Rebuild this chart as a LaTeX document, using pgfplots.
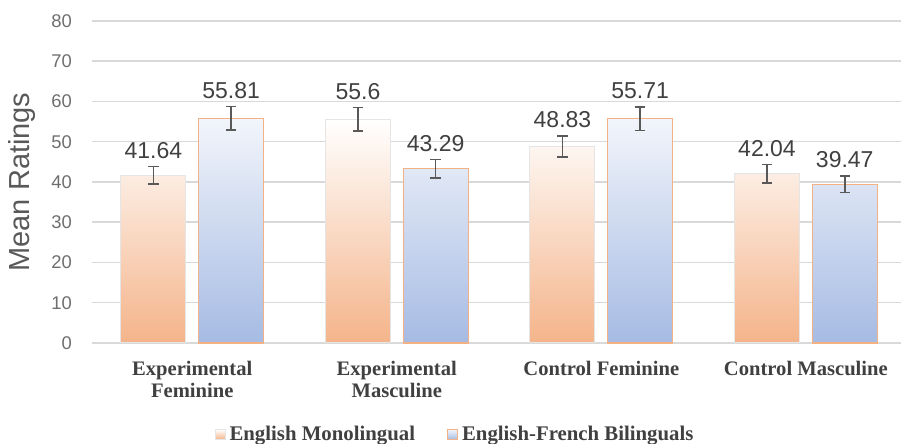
\documentclass[border=0pt]{standalone}
\usepackage{pgfplots}
\usepackage{pgfplotstable}
\pgfplotsset{compat=1.18}
\usepackage{fontspec}
\setmainfont{Liberation Sans}
\newfontfamily\tnr{Liberation Serif}
\definecolor{orgB}{HTML}{F4B48A}
\definecolor{bluB}{HTML}{A6BBE3}
\definecolor{bluT}{HTML}{F2F5FB}
\definecolor{bordO}{HTML}{F4B183}
\definecolor{gridc}{HTML}{D9D9D9}
\definecolor{errc}{HTML}{595959}
\definecolor{valc}{HTML}{404040}
\definecolor{tickc}{HTML}{6E6E6E}
\definecolor{labc}{HTML}{404040}

\pgfplotstableread{
x y err lab
0 41.64 2.2 41.64
1 55.6 2.95 55.6
2 48.83 2.55 48.83
3 42.04 2.3 42.04
}\mono
\pgfplotstableread{
x y err lab
0 55.81 2.9 55.81
1 43.29 2.3 43.29
2 55.71 2.95 55.71
3 39.47 2.05 39.47
}\bili

\begin{document}
\begin{tikzpicture}
\useasboundingbox (-46pt,-50.5pt) rectangle (404.5pt,171.5pt);
\begin{axis}[
  at={(0,0)}, anchor=south west,
  scale only axis, width=404.5pt, height=161pt,
  ybar, bar width=0.318,
  xmin=-0.49, xmax=3.465, ymin=0, ymax=80,
  ytick={0,10,...,80},
  xtick={0,1,2,3},
  xticklabels={{Experimental\\Feminine},{Experimental\\Masculine},{Control Feminine},{Control Masculine}},
  xticklabel style={align=center, font=\tnr\bfseries\fontsize{10.3}{10.8}\selectfont, text=labc, yshift=-5.75pt},
  yticklabel style={font=\fontsize{9.2}{11}\selectfont, text=tickc, xshift=-6.5pt},
  /pgf/number format/assume math mode=true,
  major tick length=0pt,
  ymajorgrids, grid style={color=gridc, line width=0.75pt},
  axis x line*=bottom, axis y line*=left,
  x axis line style={draw=gridc, line width=0.75pt, -},
  y axis line style={draw=none},
  ylabel={Mean Ratings},
  ylabel style={at={(axis description cs:-0.0865,0.5)}, anchor=center, font=\fontsize{14.5}{16}\selectfont, text=errc},
  clip=false,
  legend columns=2,
  legend style={at={(axis description cs:0.151,-0.284)}, anchor=west, draw=none, fill=none,
    inner xsep=0pt, inner ysep=0pt,
    font=\tnr\bfseries\fontsize{10.4}{12}\selectfont, text=labc,
    /tikz/every even column/.append style={column sep=14pt}},
]
\addplot[bar shift=-0.19, top color=white, bottom color=orgB, draw=black!10, line width=0.5pt,
  error bars/.cd, y dir=both, y explicit,
  error bar style={color=errc, line width=0.8pt},
  error mark=-,
  error mark options={rotate=90, color=errc, line width=0.8pt, mark size=2.6pt},
  /pgfplots/legend image code/.code={\path[top color=white, bottom color=orgB] (0pt,-2.5pt) rectangle (5pt,2.5pt);}]
  table[x=x, y=y, y error=err] {\mono};
\addlegendentry{English Monolingual}
\addplot[bar shift=0.19, top color=bluT, bottom color=bluB, draw=bordO, line width=0.6pt,
  error bars/.cd, y dir=both, y explicit,
  error bar style={color=errc, line width=0.8pt},
  error mark=-,
  error mark options={rotate=90, color=errc, line width=0.8pt, mark size=2.6pt},
  /pgfplots/legend image code/.code={\path[top color=bluT, bottom color=bluB, draw=bordO, line width=0.5pt] (0pt,-2.5pt) rectangle (5pt,2.5pt);}]
  table[x=x, y=y, y error=err] {\bili};
\addlegendentry{English-French Bilinguals}
\addplot[forget plot, bar shift=-0.19, draw=none, fill=none,
  nodes near coords, point meta=explicit symbolic,
  nodes near coords style={font=\fontsize{11.5}{13}\selectfont, text=valc, anchor=south, yshift=0.5pt}]
  table[x=x, y expr=\thisrow{y}+\thisrow{err}, meta=lab] {\mono};
\addplot[forget plot, bar shift=0.19, draw=none, fill=none,
  nodes near coords, point meta=explicit symbolic,
  nodes near coords style={font=\fontsize{11.5}{13}\selectfont, text=valc, anchor=south, yshift=0.5pt}]
  table[x=x, y expr=\thisrow{y}+\thisrow{err}, meta=lab] {\bili};
\end{axis}
\end{tikzpicture}
\end{document}
